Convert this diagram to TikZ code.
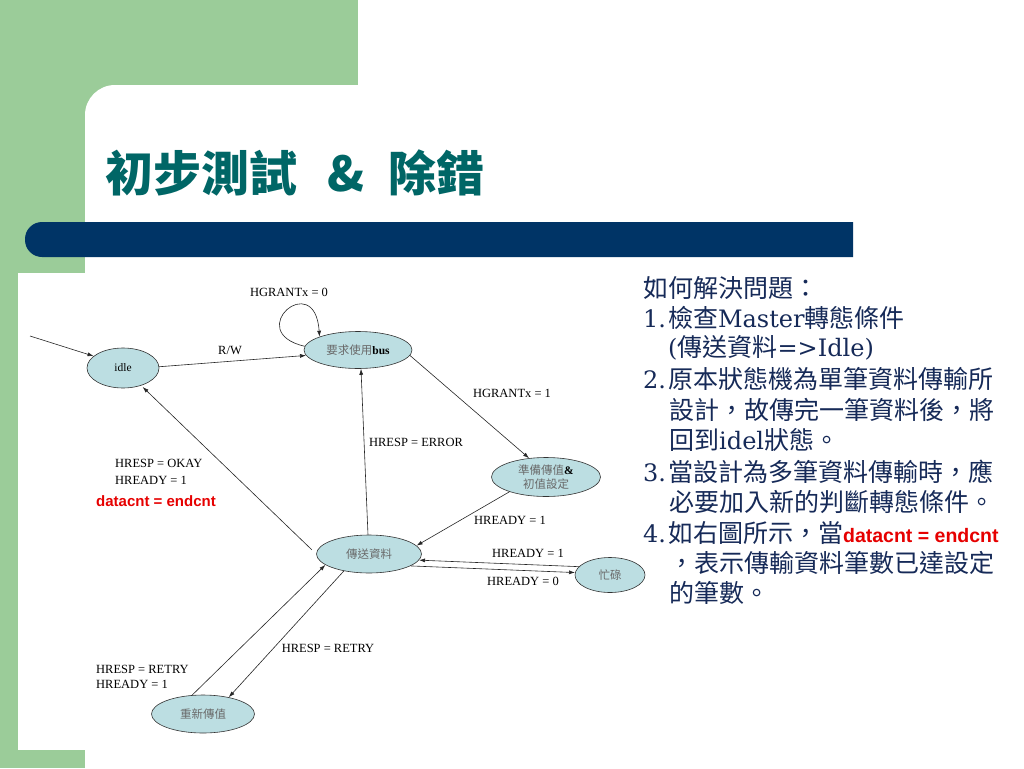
\documentclass[tikz,border=0pt]{standalone}
\usepackage{fontspec}
\setmainfont{Liberation Serif}
\newfontfamily\cjk{Noto Sans CJK TC}
\newfontfamily\latserif{DejaVu Serif}
\newfontfamily\arial{Liberation Sans}
\usetikzlibrary{shapes.geometric,arrows.meta}
\definecolor{slidegreen}{RGB}{155,204,153}
\definecolor{barblue}{RGB}{0,52,102}
\definecolor{titleteal}{RGB}{0,102,102}
\definecolor{textblue}{RGB}{22,42,88}
\definecolor{statefill}{RGB}{188,222,226}
\definecolor{cjkgray}{RGB}{105,105,105}
\definecolor{condred}{RGB}{230,0,0}
\newcommand{\zh}[1]{{\cjk\color{cjkgray}#1}}
\newcommand{\lat}[1]{{\latserif\fontsize{24}{30}\selectfont #1}}
\newcommand{\redcnt}{{\arial\bfseries\fontsize{19.5}{30}\selectfont\color{condred}datacnt = endcnt}}

\begin{document}
\begin{tikzpicture}[x=1pt,y=-1pt,
		state/.style={ellipse, draw=black!80, fill=statefill, line width=0.6pt, inner sep=0pt, align=center, font=\fontsize{11.5}{14}\selectfont},
		trans/.style={draw=black!85, line width=0.6pt, -{Latex[length=6pt,width=4pt]}},
		cond/.style={inner sep=0pt, font=\fontsize{12.5}{16}\selectfont},
		note/.style={anchor=west, inner sep=0pt, text=textblue, font=\cjk\fontsize{25}{30}\selectfont}]
		\useasboundingbox (0,0) rectangle (1024,768);
		\clip (0,0) rectangle (1024,768);
		\fill [white] (0,0) rectangle (1024,768);
		\fill [slidegreen] (0,0) rectangle (358,120);
		\fill [slidegreen] (0,0) rectangle (120,768);
		\fill [white, rounded corners=30pt] (85,85) rectangle (1100,850);
		\begin{scope}
			\clip (0,200) rectangle (853,280);
			\fill [barblue, rounded corners=17pt] (25,222) rectangle (900,257);
		\end{scope}
		\fill [white] (18,273) rectangle (640,750);
		\node [anchor=west, inner sep=0pt, text=titleteal, font=\cjk\bfseries\fontsize{48}{50}\selectfont] (title) at (105,173) {初步測試\hspace{30pt}\&\hspace{24pt}除錯};
		\node [state, minimum width=72pt, minimum height=40pt] (idle) at (123,368) {idle};
		\node [state, minimum width=108pt, minimum height=37pt] (bus) at (358,350) {\zh{要求使用}\textbf{bus}};
		\node [state, minimum width=109pt, minimum height=39pt] (prep) at (546,477) {\zh{準備傳值}\textbf{\&}\\\zh{初值設定}};
		\node [state, minimum width=105pt, minimum height=38pt] (xfer) at (369,554) {\zh{傳送資料}};
		\node [state, minimum width=70pt, minimum height=35pt] (busy) at (610,575) {\zh{忙碌}};
		\node [state, minimum width=103pt, minimum height=38pt] (retry) at (203,714) {\zh{重新傳值}};
		\coordinate (start) at (30,336);
		\draw [trans] (start) -- (idle.158);
		\draw [trans] (idle.2) -- (bus.186);
		\draw [trans] (bus.176) .. controls (242,332) and (315,268) .. (bus.161);
		\draw [trans] (bus.354) -- (prep.132);
		\draw [trans] (xfer.93) -- (bus.279);
		\draw [trans] (prep.202) -- (xfer.10);
		\draw [trans] (busy.165) -- (xfer.353);
		\draw [trans] (xfer.344) -- (busy.176);
		\draw [trans, shorten <=6pt, shorten >=2pt] (xfer.west) -- (idle.316);
		\draw [trans] (retry.120) -- (xfer.194);
		\draw [trans] (xfer.214) -- (retry.33);
		\node [cond] (rw) at (230,350) {R/W};
		\node [cond] (grant0) at (289,292) {HGRANTx = 0};
		\node [cond] (grant1) at (512,393) {HGRANTx = 1};
		\node [cond] (error) at (416,442) {HRESP = ERROR};
		\node [cond] (ready1) at (510,520) {HREADY = 1};
		\node [cond] (ready1b) at (528,553) {HREADY = 1};
		\node [cond] (ready0) at (523,581) {HREADY = 0};
		\node [cond, anchor=west, align=left, font=\fontsize{12.5}{17}\selectfont] (okay) at (115,472) {HRESP = OKAY\\HREADY = 1};
		\node [cond, anchor=west, text=condred, font=\arial\bfseries\fontsize{15}{18}\selectfont] (endcnt) at (96,501) {datacnt = endcnt};
		\node [cond, anchor=west, align=left, font=\fontsize{12.5}{15}\selectfont] (retrycond) at (96,677) {HRESP = RETRY\\HREADY = 1};
		\node [cond] (retryback) at (328,648) {HRESP = RETRY};
		\node [note] (n0) at (643,288) {如何解決問題：};
		\node [note] (n1) at (643,318) {\lat{1.}\hspace{2pt}檢查\lat{Master}轉態條件};
		\node [note] (n1b) at (668,348) {\lat{(}傳送資料\lat{=>Idle)}};
		\node [note] (n2) at (643,379) {\lat{2.}\hspace{2pt}原本狀態機為單筆資料傳輸所};
		\node [note] (n2b) at (669,410) {設計，故傳完一筆資料後，將};
		\node [note] (n2c) at (669,440) {回到\lat{idel}狀態。};
		\node [note] (n3) at (643,472) {\lat{3.}\hspace{2pt}當設計為多筆資料傳輸時，應};
		\node [note] (n3b) at (669,502) {必要加入新的判斷轉態條件。};
		\node [note] (n4) at (643,533) {\lat{4.}\hspace{2pt}如右圖所示，當\redcnt};
		\node [note] (n4b) at (669,563) {，表示傳輸資料筆數已達設定};
		\node [note] (n4c) at (669,593) {的筆數。};
\end{tikzpicture}
\end{document}
